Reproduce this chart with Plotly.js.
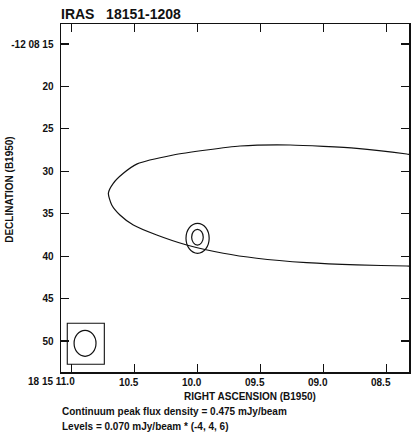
<!DOCTYPE html>
<html>
<head>
<meta charset="utf-8">
<script src="https://cdn.plot.ly/plotly-3.0.1.min.js"></script>
<style>
  html, body { margin: 0; padding: 0; background: #fff; }
  #map { width: 411px; height: 436px; }
</style>
</head>
<body>
<div id="map"></div>
<script>
// IRAS 18151-1208 continuum map, B1950 coordinates.
// RA in seconds past 18h15m, Dec in arcsec past -12d08m.

// Large extended contour (open towards the west edge of the field)
const extRA  = [8.236, 8.341, 8.738, 9.267, 9.664, 9.929, 10.194, 10.480, 10.590, 10.670, 10.709,
                10.682, 10.617, 10.511, 10.325, 10.087, 9.797, 9.532, 9.135, 8.738, 8.341, 8.236];
const extDec = [28.20, 27.96, 27.29, 26.90, 27.02, 27.49, 28.08, 29.13, 30.24, 31.42, 32.59,
                33.97, 35.15, 36.33, 37.51, 38.69, 39.66, 40.25, 40.77, 41.04, 41.16, 41.22];

// Compact source contours: centre RA, centre Dec, half-width (s), half-height (arcsec)
const srcRA     = [10.001, 10.002];
const srcDec    = [37.90, 37.77];
const srcHalfRA = [0.092, 0.046];
const srcHalfDec= [1.77, 0.92];

// Synthesized beam and its box
const beamRA = 10.894, beamDec = 50.27, beamHalfRA = 0.087, beamHalfDec = 1.53;
const beamBoxRA  = [11.035, 10.741];
const beamBoxDec = [47.91, 52.74];

// Axis ticks
const raTicks   = [11.0, 10.5, 10.0, 9.5, 9.0, 8.5];
const raLabels  = [' ', '10.5', '10.0', '09.5', '09.0', '08.5'];
const raFirstLabel = '18 15 11.0';
const decTicks  = [15, 20, 25, 30, 35, 40, 45, 50];
const decLabels = ['-12 08 15', '20', '25', '30', '35', '40', '45', '50'];

const raRange  = [11.0848, 8.3233];
const decRange = [53.653, 12.643];

const FONT = 'Liberation Sans, Arial, Helvetica, sans-serif';
const INK = '#111';
const labelFont = { family: FONT, size: 10, color: INK, weight: 'bold' };

const traces = [{
  type: 'scatter', mode: 'lines',
  x: extRA, y: extDec,
  line: { color: INK, width: 1.2, shape: 'spline', smoothing: 0.6 },
  hoverinfo: 'skip', showlegend: false
}];

const shapes = [];
for (let i = 0; i < srcRA.length; i++) {
  shapes.push({
    type: 'circle', xref: 'x', yref: 'y',
    x0: srcRA[i] + srcHalfRA[i], x1: srcRA[i] - srcHalfRA[i],
    y0: srcDec[i] - srcHalfDec[i], y1: srcDec[i] + srcHalfDec[i],
    line: { color: INK, width: 1.2 }
  });
}
shapes.push({
  type: 'circle', xref: 'x', yref: 'y',
  x0: beamRA + beamHalfRA, x1: beamRA - beamHalfRA,
  y0: beamDec - beamHalfDec, y1: beamDec + beamHalfDec,
  line: { color: INK, width: 1.2 }
});
shapes.push({
  type: 'rect', xref: 'x', yref: 'y',
  x0: beamBoxRA[0], x1: beamBoxRA[1], y0: beamBoxDec[0], y1: beamBoxDec[1],
  line: { color: INK, width: 1.1 }
});

const axisCommon = {
  showgrid: false, zeroline: false,
  showline: true, linecolor: INK, linewidth: 1.5, mirror: 'allticks',
  ticks: 'inside', ticklen: 8, tickwidth: 1.1, tickcolor: INK,
  tickmode: 'array',
  tickfont: labelFont
};

const layout = {
  width: 411, height: 436,
  margin: { l: 61, r: 2, t: 24, b: 64 },
  paper_bgcolor: '#fff', plot_bgcolor: '#fff',
  title: {
    text: 'IRAS\u00a0\u00a0\u00a018151-1208',
    xref: 'container', yref: 'container',
    x: 61 / 411, xanchor: 'left',
    y: 1 - 14.5 / 436, yanchor: 'middle',
    font: { family: FONT, size: 14, color: INK, weight: 'bold' }
  },
  xaxis: Object.assign({}, axisCommon, {
    range: raRange, tickvals: raTicks, ticktext: raLabels,
    ticklabelshift: 6
  }),
  yaxis: Object.assign({}, axisCommon, {
    range: decRange, tickvals: decTicks, ticktext: decLabels,
    ticklabelstandoff: 4
  }),
  shapes: shapes,
  annotations: [
    { text: raFirstLabel, xref: 'paper', yref: 'paper', x: 0.0451, y: 0,
      xanchor: 'right', yanchor: 'top', yshift: -2, showarrow: false,
      font: labelFont },
    { text: 'RIGHT ASCENSION (B1950)', xref: 'paper', yref: 'paper',
      x: 0.5445, y: -0.0718, xanchor: 'center', yanchor: 'middle', showarrow: false,
      font: labelFont },
    { text: 'DECLINATION (B1950)', xref: 'paper', yref: 'paper', textangle: -90,
      x: -0.148, y: 0.525, xanchor: 'center', yanchor: 'middle', showarrow: false,
      font: labelFont },
    { text: 'Continuum peak flux density = 0.475 mJy/beam', xref: 'paper', yref: 'paper',
      x: -0.003, y: -0.1149, xanchor: 'left', yanchor: 'middle', showarrow: false,
      font: labelFont },
    { text: 'Levels = 0.070 mJy/beam * (-4, 4, 6)', xref: 'paper', yref: 'paper',
      x: -0.003, y: -0.1566, xanchor: 'left', yanchor: 'middle', showarrow: false,
      font: labelFont }
  ]
};

Plotly.newPlot('map', traces, layout, { staticPlot: true, displayModeBar: false });
</script>
</body>
</html>
